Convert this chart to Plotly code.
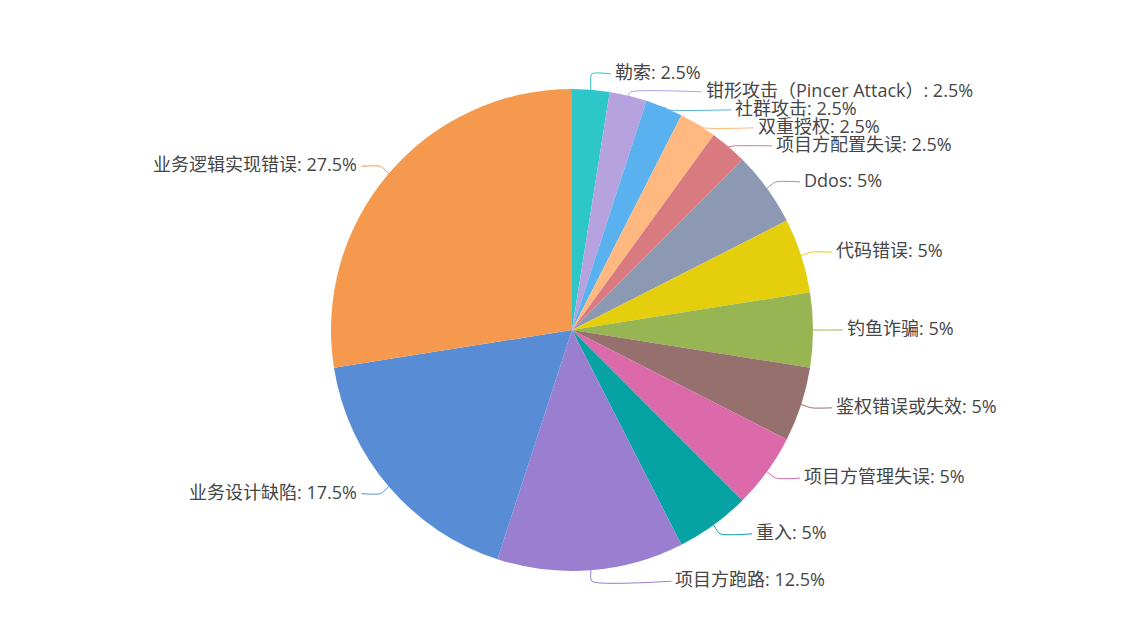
import math
import plotly.graph_objects as go

# ---- data ----
categories = [
    "勒索", "钳形攻击（Pincer Attack）", "社群攻击", "双重授权", "项目方配置失误",
    "Ddos", "代码错误", "钓鱼诈骗", "鉴权错误或失效", "项目方管理失误",
    "重入", "项目方跑路", "业务设计缺陷", "业务逻辑实现错误",
]
counts = [1, 1, 1, 1, 1, 2, 2, 2, 2, 2, 2, 5, 7, 11]
colors = [
    "#2ec7c9", "#b6a2de", "#5ab1ef", "#ffb980", "#d87a80", "#8d98b3", "#e5cf0d",
    "#97b552", "#95706d", "#dc69aa", "#07a2a4", "#9a7fd1", "#588dd5", "#f5994e",
]

# ---- layout parameters (pixels) ----
W, H = 1142, 644
CX, CY, R = 572, 330, 241
LEN, LEN2, DIST = 11, 19, 3
LINE_H = 18
TEXT_DY = -2
ELL_B = 1.1 * R
FONT = "Open Sans, Noto Sans CJK SC, sans-serif"
TEXT_COLOR = "#464646"

total = sum(counts)


def fmt_pct(v):
    p = round(v / total * 100, 1)
    s = f"{p:.1f}"
    if s.endswith(".0"):
        s = s[:-2]
    return s + "%"


# ---- compute label layout from the data ----
items = []
cum = 0.0
for name, v, c in zip(categories, counts, colors):
    mid = (cum + v / 2) / total * 2 * math.pi
    cum += v
    sx, sy = math.sin(mid), -math.cos(mid)
    it = dict(
        text=f"{name}: {fmt_pct(v)}", color=c,
        x1=CX + R * sx, y1=CY + R * sy,
        x2=CX + (R + LEN) * sx, y2=CY + (R + LEN) * sy,
        side=1 if sx >= 0 else -1,
    )
    it["y"] = it["y2"]
    items.append(it)

for side in (1, -1):
    lst = sorted([it for it in items if it["side"] == side], key=lambda d: d["y"])
    adjusted = False
    if len(lst) >= 2:
        last = -1e9
        shifts = []
        for it in lst:
            top = it["y"] - LINE_H / 2
            d = top - last
            s = max(-d, 0)
            it["y"] += s
            shifts.append(s)
            last = it["y"] + LINE_H / 2
        tot = sum(shifts)
        adjusted = tot > 0
        if adjusted:
            groups, cur = [], [0]
            for i in range(1, len(lst)):
                if lst[i]["y"] - lst[i - 1]["y"] <= LINE_H + 0.5:
                    cur.append(i)
                else:
                    groups.append(cur)
                    cur = [i]
            groups.append(cur)
            for g in groups:
                if sum(shifts[i] for i in g) > 0:
                    for i in g:
                        lst[i]["y"] -= tot / len(lst)
    for it in lst:
        nat = abs(it["x2"] - CX) + LEN2 + DIST
        dy = abs(it["y"] - CY)
        if adjusted and dy / ELL_B <= 0.96:
            X = (R + LEN) * math.sqrt(max(0.0, 1 - dy * dy / (ELL_B * ELL_B))) + LEN2 + DIST
        else:
            X = nat
        it["tx"] = CX + side * X

fig = go.Figure()

fig.add_trace(go.Pie(
    labels=categories, values=counts, sort=False, direction="clockwise",
    rotation=0, marker=dict(colors=colors, line=dict(width=0)),
    textinfo="none", hoverinfo="skip", showlegend=False,
    domain=dict(x=[(CX - R) / W, (CX + R) / W], y=[1 - (CY + R) / H, 1 - (CY - R) / H]),
))

annotations = []
for it in items:
    side = it["side"]
    xe = it["tx"] - side * DIST
    fig.add_trace(go.Scatter(
        x=[it["x1"], it["x2"], xe], y=[it["y1"], it["y"], it["y"]],
        mode="lines", line=dict(color=it["color"], width=1, shape="spline", smoothing=0.6),
        hoverinfo="skip", showlegend=False,
    ))
    annotations.append(dict(
        x=it["tx"], y=it["y"] + TEXT_DY, xref="x", yref="y", text=it["text"], showarrow=False,
        xanchor="left" if side > 0 else "right", yanchor="middle",
        font=dict(size=18, color=TEXT_COLOR, family=FONT), borderpad=0,
    ))

fig.update_layout(
    width=W, height=H, margin=dict(l=0, r=0, t=0, b=0),
    paper_bgcolor="white", plot_bgcolor="rgba(0,0,0,0)",
    xaxis=dict(range=[0, W], visible=False, fixedrange=True, domain=[0, 1]),
    yaxis=dict(range=[H, 0], visible=False, fixedrange=True, domain=[0, 1]),
    annotations=annotations, showlegend=False,
)

fig.write_html("out.html", config={"displayModeBar": False},
               post_script="document.body.style.margin='0';")
